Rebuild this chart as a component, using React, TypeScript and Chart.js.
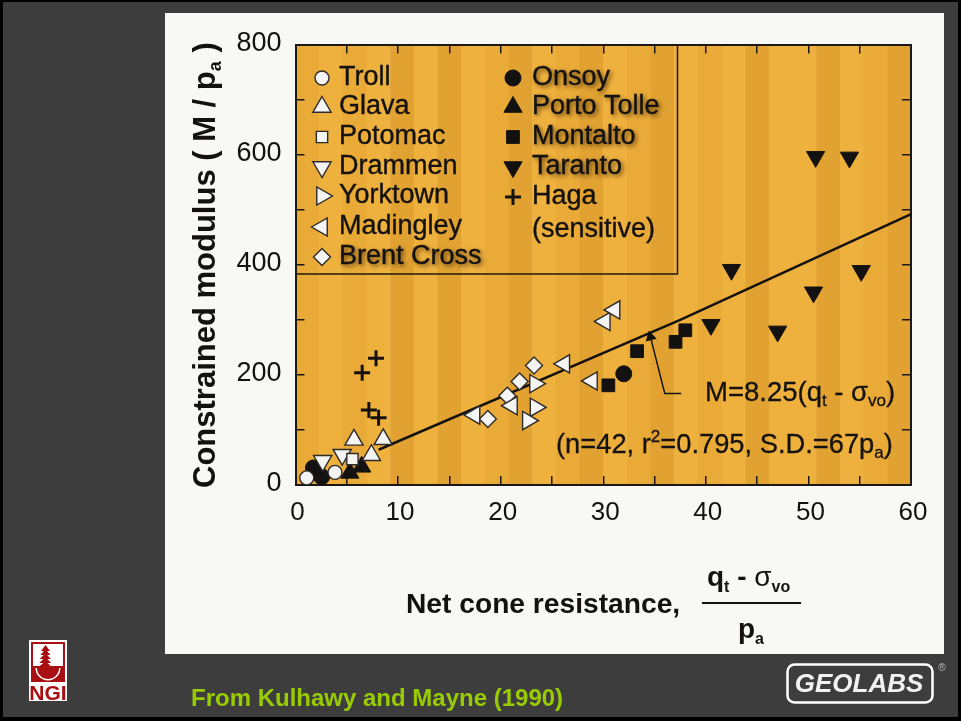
import React, { useEffect, useRef } from "react";
import { Chart, registerables } from "chart.js";
import { drawPoint } from "chart.js/helpers";

Chart.register(...registerables);

const trollPts = [{ x: 1.1, y: 13 }, { x: 3.85, y: 23 }];
const glavaPts = [{ x: 5.7, y: 82 }, { x: 8.55, y: 83 }, { x: 7.4, y: 54 }];
const potomacPts = [{ x: 5.55, y: 47 }];
const drammenPts = [{ x: 2.65, y: 44 }, { x: 4.55, y: 55 }];
const yorktownPts = [{ x: 23.35, y: 184 }, { x: 23.4, y: 141 }, { x: 22.65, y: 117 }];
const madingleyPts = [{ x: 17.45, y: 127 }, { x: 21.1, y: 144 }, { x: 26.2, y: 220 }, { x: 28.9, y: 189 }, { x: 30.15, y: 297 }, { x: 31.1, y: 318 }];
const brentPts = [{ x: 18.75, y: 120 }, { x: 20.65, y: 162 }, { x: 21.85, y: 188 }, { x: 23.25, y: 217 }];
const onsoyPts = [{ x: 1.75, y: 31 }, { x: 2.55, y: 15 }, { x: 32, y: 202 }];
const portoPts = [{ x: 5.3, y: 22 }, { x: 6.45, y: 33 }];
const montaltoPts = [{ x: 30.5, y: 181 }, { x: 33.3, y: 243 }, { x: 37.05, y: 260 }, { x: 38, y: 281 }];
const tarantoPts = [{ x: 50.7, y: 596 }, { x: 54, y: 595 }, { x: 42.5, y: 391 }, { x: 55.15, y: 389 }, { x: 50.5, y: 350 }, { x: 40.5, y: 291 }, { x: 47, y: 279 }];
const hagaPts = [{ x: 7.85, y: 230 }, { x: 6.5, y: 204 }, { x: 7.15, y: 136 }, { x: 8.1, y: 122 }];
const fitLine = [{ x: 8.1, y: 64 }, { x: 37.5, y: 300 }, { x: 60, y: 492 }];
const leaderLine = [{ x: 34.6, y: 269 }, { x: 36, y: 166 }, { x: 37.6, y: 166 }];
const stripeTones = ["m", "l", "m", "l", "d", "l", "d", "l", "m", "d", "l", "m", "d", "l", "m", "d", "l", "m", "l", "d", "l", "l", "d", "l", "m", "d"];

const SANS = '"Liberation Sans", Arial, sans-serif';
const INK = "#141210";
const WHITE_FILL = "#f4f4f2";
const WHITE_EDGE = "#2c2a2a";

const marker = (label: string, data: any[], pointStyle: string, radius: number, filled: boolean, rotation = 0, extra: any = {}) => ({
  label,
  data,
  showLine: false,
  pointStyle,
  pointRadius: radius,
  pointRotation: rotation,
  pointBackgroundColor: filled ? INK : WHITE_FILL,
  pointBorderColor: filled ? INK : WHITE_EDGE,
  pointBorderWidth: filled ? 1 : 1.4,
  ...extra,
});

const leftLegend = ["Troll", "Glava", "Potomac", "Drammen", "Yorktown", "Madingley", "Brent Cross"];
const leftLegendY = [76, 105, 135, 165, 194, 225, 255];
const rightLegend = ["Onsoy", "Porto Tolle", "Montalto", "Taranto", "Haga"];
const rightLegendY = [76, 105, 135, 165, 195];

type Run = [string, number, string?, number?];

function drawRuns(ctx: CanvasRenderingContext2D, x: number, y: number, runs: Run[], weight = "normal", thicken = 0) {
  let cx = x;
  ctx.textAlign = "left";
  ctx.textBaseline = "alphabetic";
  ctx.strokeStyle = ctx.fillStyle as string;
  ctx.lineWidth = thicken;
  for (const [t, size, w, dy] of runs) {
    ctx.font = `${w || weight} ${size}px ${SANS}`;
    ctx.fillText(t, cx, y + (dy || 0));
    if (thicken) ctx.strokeText(t, cx, y + (dy || 0));
    cx += ctx.measureText(t).width;
  }
}

const framePlugin = {
  id: "frame",
  beforeDraw(chart: any) {
    const ctx: CanvasRenderingContext2D = chart.ctx;
    const { left, right, top, bottom } = chart.chartArea;
    ctx.save();
    ctx.fillStyle = "#000000";
    ctx.fillRect(0, 0, 961, 721);
    ctx.fillStyle = "#3d3d3d";
    ctx.fillRect(3, 2, 955, 715);
    ctx.fillStyle = "#f8f8f5";
    ctx.fillRect(165, 13, 779, 641);
    const sw = (right - left) / stripeTones.length;
    const toneColors: Record<string, string> = { l: "#f3b43f", m: "#edad39", d: "#e5a534" };
    stripeTones.forEach((t, i) => {
      ctx.fillStyle = toneColors[t];
      ctx.fillRect(left + i * sw, top, sw + 0.5, bottom - top);
    });
    ctx.fillStyle = "rgba(120,70,0,0.06)";
    for (let yy = top; yy < bottom; yy += 2) ctx.fillRect(left, yy, right - left, 1);

    // NGI logo
    ctx.fillStyle = "#ffffff";
    ctx.fillRect(29, 640, 38, 61);
    ctx.fillStyle = "#a80f12";
    ctx.fillRect(31, 642, 34, 40);
    ctx.fillStyle = "#ffffff";
    ctx.fillRect(33, 644, 30, 24);
    ctx.fillStyle = "#a80f12";
    for (let i = 0; i < 5; i++) {
      ctx.beginPath();
      ctx.moveTo(45.5, 645 + i * 4);
      ctx.lineTo(41 - i * 0.6, 651 + i * 4);
      ctx.lineTo(50 + i * 0.4, 651 + i * 4);
      ctx.closePath();
      ctx.fill();
    }
    ctx.fillRect(33, 666, 30, 2);
    ctx.fillStyle = "#ffffff";
    ctx.beginPath();
    ctx.arc(48, 668, 12.5, 0, Math.PI);
    ctx.fill();
    ctx.fillStyle = "#a80f12";
    ctx.beginPath();
    ctx.arc(48, 668, 11, 0, Math.PI);
    ctx.fill();
    ctx.font = `bold 21px ${SANS}`;
    ctx.textAlign = "center";
    ctx.textBaseline = "alphabetic";
    ctx.fillText("NGI", 48, 700);

    // GEOLABS logo
    ctx.strokeStyle = "#ffffff";
    ctx.lineWidth = 2.5;
    ctx.beginPath();
    ctx.roundRect(787.5, 664.5, 145, 38, 7);
    ctx.stroke();
    ctx.fillStyle = "#f2f2f2";
    ctx.font = `italic bold 26px ${SANS}`;
    ctx.fillText("GEOLABS", 859, 692);
    ctx.fillStyle = "#bdbdbd";
    ctx.font = `10px ${SANS}`;
    ctx.fillText("®", 942, 671);

    // source
    ctx.fillStyle = "#99cc00";
    ctx.textAlign = "left";
    ctx.font = `bold 24px ${SANS}`;
    ctx.fillText("From Kulhawy and Mayne (1990)", 191, 706);
    ctx.restore();
  },
  afterDraw(chart: any) {
    const ctx: CanvasRenderingContext2D = chart.ctx;
    const { left } = chart.chartArea;
    ctx.save();
    ctx.fillStyle = INK;

    // axis titles
    ctx.save();
    ctx.translate(215, 488);
    ctx.rotate(-Math.PI / 2);
    drawRuns(ctx, 0, 0, [["Constrained modulus ( M / p", 31], ["a", 18, "bold", 6], [" )", 31]], "bold");
    ctx.restore();
    drawRuns(ctx, 406, 613, [["Net cone resistance,", 28.2]], "bold");
    drawRuns(ctx, 707, 586, [["q", 28], ["t", 16, "bold", 6], [" - ", 28], ["σ", 28, "normal"], ["vo", 16, "bold", 6]], "bold");
    drawRuns(ctx, 738, 638, [["p", 28], ["a", 16, "bold", 6]], "bold");
    ctx.fillRect(702, 602, 99, 2);

    // annotations
    drawRuns(ctx, 705, 401, [["M=8.25(q", 27.5], ["t", 17, "normal", 5], [" - ", 27.5], ["σ", 27.5], ["vo", 17, "normal", 5], [")", 27.5]], "normal", 0.3);
    drawRuns(ctx, 556, 453, [["(n=42, r", 27.3], ["2", 17, "normal", -11], ["=0.795, S.D.=67p", 27.3], ["a", 17, "normal", 5], [")", 27.3]], "normal", 0.3);

    // legend box
    ctx.strokeStyle = "#221a10";
    ctx.lineWidth = 1.5;
    ctx.beginPath();
    ctx.moveTo(left, 274);
    ctx.lineTo(677.5, 274);
    ctx.lineTo(677.5, 44.5);
    ctx.stroke();

    const rowFont = `27px ${SANS}`;
    ctx.textAlign = "left";
    ctx.textBaseline = "middle";
    ctx.font = rowFont;
    ctx.strokeStyle = INK;
    ctx.lineWidth = 0.4;
    const draw = (t: string, x: number, y: number, glow: boolean) => {
      if (glow) {
        ctx.shadowColor = "rgba(50,25,0,0.75)";
        ctx.shadowBlur = 4;
        ctx.shadowOffsetX = 2;
        ctx.shadowOffsetY = 2;
      }
      ctx.fillText(t, x, y);
      ctx.shadowColor = "transparent";
      ctx.shadowBlur = 0;
      ctx.shadowOffsetX = 0;
      ctx.shadowOffsetY = 0;
      ctx.strokeText(t, x, y);
    };
    leftLegend.forEach((t, i) => draw(t, 339, leftLegendY[i] + 2, t === "Brent Cross"));
    rightLegend.forEach((t, i) => draw(t, 532, rightLegendY[i] + 2, t !== "Haga"));
    draw("(sensitive)", 532, 230, false);

    const sym = (label: string, x: number, y: number) => {
      const ds = chart.data.datasets.find((d: any) => d.label === label);
      ctx.fillStyle = ds.pointBackgroundColor;
      ctx.strokeStyle = ds.pointBorderColor;
      ctx.lineWidth = ds.pointBorderWidth;
      drawPoint(ctx, { pointStyle: ds.pointStyle, radius: ds.pointRadius, rotation: ds.pointRotation, borderWidth: ds.pointBorderWidth }, x, y);
    };
    leftLegend.forEach((t, i) => sym(t, 322, leftLegendY[i] + 2));
    rightLegend.forEach((t, i) => sym(t, 513, rightLegendY[i] + 2));
    ctx.restore();
  },
};

const tickColor = "#1c1816";

export default function App() {
  const ref = useRef<HTMLCanvasElement | null>(null);
  useEffect(() => {
    const hidden = { afterFit: (s: any) => { if (s.isHorizontal()) s.height = 0; else s.width = 0; } };
    const grid = { drawOnChartArea: false, color: tickColor, lineWidth: 1.5, tickLength: -9, tickColor };
    const border = { display: true, color: tickColor, width: 2 };
    const chart = new Chart(ref.current as HTMLCanvasElement, {
      type: "scatter",
      data: {
        datasets: [
          marker("Troll", trollPts, "circle", 7, false),
          marker("Yorktown", yorktownPts, "triangle", 10.5, false, 90),
          marker("Madingley", madingleyPts, "triangle", 10.5, false, 270),
          marker("Brent Cross", brentPts, "rectRot", 8.5, false),
          marker("Potomac", potomacPts, "rect", 8, false),
          marker("Glava", glavaPts, "triangle", 10.5, false),
          marker("Drammen", drammenPts, "triangle", 10.5, false, 180),
          marker("Haga", hagaPts, "cross", 8, true, 0, { pointBorderWidth: 3 }),
          marker("Onsoy", onsoyPts, "circle", 8, true),
          marker("Porto Tolle", portoPts, "triangle", 10.5, true),
          marker("Montalto", montaltoPts, "rect", 9, true),
          marker("Taranto", tarantoPts, "triangle", 10.5, true, 180),
          { label: "Fit", data: fitLine, showLine: true, borderColor: INK, borderWidth: 2.5, pointRadius: 0 },
          { label: "Leader", data: leaderLine, showLine: true, borderColor: INK, borderWidth: 1.5, pointStyle: "triangle", pointRotation: -14, pointRadius: [5, 0, 0], pointBackgroundColor: INK, pointBorderColor: INK },
        ] as any,
      },
      plugins: [framePlugin],
      options: {
        animation: false,
        responsive: false,
        devicePixelRatio: 1,
        layout: { autoPadding: false, padding: { left: 0, top: 44.5, right: 50, bottom: 0 } },
        plugins: { legend: { display: false }, tooltip: { enabled: false } },
        scales: {
          x: {
            type: "linear", min: 0, max: 60, position: "bottom",
            afterFit: (s: any) => { s.height = 236; },
            grid, border,
            ticks: {
              stepSize: 5, autoSkip: false, maxRotation: 0, padding: 21, labelOffset: 2, color: INK,
              font: { family: SANS, size: 26 },
              callback: (v: any) => (v % 10 === 0 ? String(v) : ""),
            },
          },
          y: {
            type: "linear", min: 0, max: 800, position: "left",
            afterFit: (s: any) => { s.width = 295.5; },
            grid, border,
            ticks: {
              stepSize: 100, autoSkip: false, padding: 23, labelOffset: -1, color: INK,
              font: { family: SANS, size: 27 },
              callback: (v: any) => (v % 200 === 0 ? String(v) : ""),
            },
          },
          x2: { type: "linear", min: 0, max: 60, position: "top", ...hidden, grid, border, ticks: { stepSize: 5, display: false } },
          y2: { type: "linear", min: 0, max: 800, position: "right", ...hidden, grid, border, ticks: { stepSize: 100, display: false } },
        },
      } as any,
    });
    return () => chart.destroy();
  }, []);
  return (
    <div style={{ position: "fixed", left: 0, top: 0, width: 961, height: 721 }}>
      <canvas ref={ref} width={961} height={721} style={{ display: "block", width: 961, height: 721 }} />
    </div>
  );
}
